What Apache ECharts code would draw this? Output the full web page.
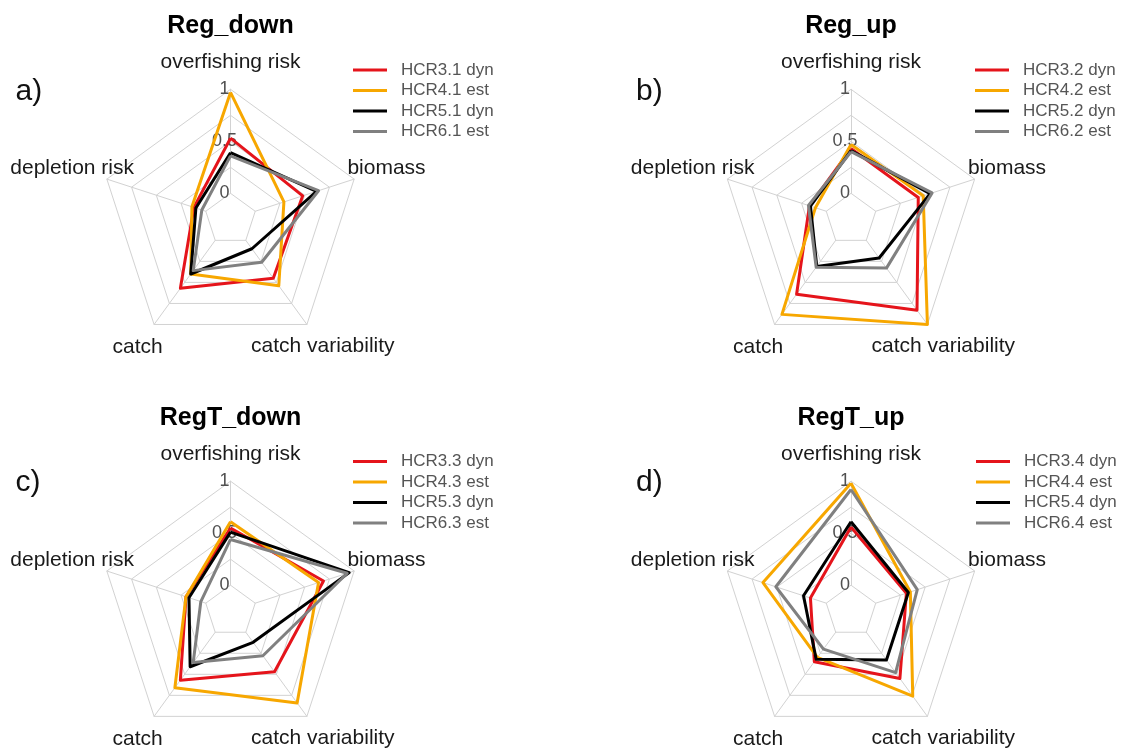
<!DOCTYPE html>
<html>
<head>
<meta charset="utf-8">
<script src="https://cdn.jsdelivr.net/npm/echarts@6/dist/echarts.min.js"></script>
<style>
  html, body { margin: 0; padding: 0; background: #fff; }
  #chart { width: 1124px; height: 751px; }
</style>
</head>
<body>
<div id="chart"></div>
<script>
// Radar axes, listed counter-clockwise from the top
const axisNames = ['overfishing risk', 'depletion risk', 'catch', 'catch variability', 'biomass'];
const tickLabels = ['0', '0.5', '1'];

const panelTitles = ['Reg_down', 'Reg_up', 'RegT_down', 'RegT_up'];
const panelTags = ['a)', 'b)', 'c)', 'd)'];

// Harvest control rule names per panel
const namesRegDown  = ['HCR3.1 dyn', 'HCR4.1 est', 'HCR5.1 dyn', 'HCR6.1 est'];
const namesRegUp    = ['HCR3.2 dyn', 'HCR4.2 est', 'HCR5.2 dyn', 'HCR6.2 est'];
const namesRegTDown = ['HCR3.3 dyn', 'HCR4.3 est', 'HCR5.3 dyn', 'HCR6.3 est'];
const namesRegTUp   = ['HCR3.4 dyn', 'HCR4.4 est', 'HCR5.4 dyn', 'HCR6.4 est'];

// Scores in axis order: overfishing, depletion, catch, catch variability, biomass
const hcr31 = [0.53, 0.12, 0.57, 0.45, 0.48];
const hcr41 = [0.97, 0.14, 0.40, 0.54, 0.29];
const hcr51 = [0.39, 0.10, 0.40, 0.10, 0.62];
const hcr61 = [0.36, 0.04, 0.36, 0.26, 0.64];

const hcr32 = [0.43, 0.17, 0.64, 0.83, 0.43];
const hcr42 = [0.47, 0.11, 0.88, 1.00, 0.48];
const hcr52 = [0.41, 0.16, 0.31, 0.21, 0.55];
const hcr62 = [0.40, 0.18, 0.32, 0.33, 0.57];

const hcr33 = [0.55, 0.20, 0.57, 0.47, 0.69];
const hcr43 = [0.61, 0.20, 0.66, 0.84, 0.64];
const hcr53 = [0.51, 0.17, 0.41, 0.12, 0.95];
const hcr63 = [0.44, 0.05, 0.36, 0.28, 0.93];

const hcr34 = [0.56, 0.16, 0.35, 0.55, 0.31];
const hcr44 = [0.98, 0.64, 0.30, 0.76, 0.35];
const hcr54 = [0.61, 0.23, 0.32, 0.33, 0.33];
const hcr64 = [0.92, 0.51, 0.20, 0.48, 0.42];

// ---- layout & styling ----
const FONT = 'Liberation Sans, Arial, sans-serif';
const lineColors = ['#e5141b', '#f7a700', '#000000', '#808080'];
const centers = [[230.5, 219.3], [851, 219.3], [230.5, 611.2], [851, 611.2]];
const legendPos = [[353, 61.5], [975, 61.5], [353, 453], [976, 453]];
const nameGaps = [27, 36.5, 28, 27, 34];

const panelNames = [namesRegDown, namesRegUp, namesRegTDown, namesRegTUp];
const panelValues = [
  [hcr31, hcr41, hcr51, hcr61],
  [hcr32, hcr42, hcr52, hcr62],
  [hcr33, hcr43, hcr53, hcr63],
  [hcr34, hcr44, hcr54, hcr64]
];

const radars = centers.map(c => ({
  center: c,
  radius: [26, 130],
  startAngle: 90,
  shape: 'polygon',
  splitNumber: 4,
  indicator: axisNames.map((n, i) => {
    const ind = { name: n, min: 0, max: 1, nameGap: nameGaps[i] };
    if (i === 0) ind.axisLabel = { show: true };
    return ind;
  }),
  axisName: {
    color: '#1a1a1a',
    fontSize: 21,
    fontFamily: FONT,
    align: 'center',
    verticalAlign: 'middle'
  },
  axisLine: { show: true, lineStyle: { color: '#d2d2d2', width: 1 } },
  splitLine: { show: true, lineStyle: { color: '#d2d2d2', width: 1 } },
  splitArea: { show: false },
  axisTick: { show: false },
  axisLabel: {
    show: false,
    color: '#505050',
    fontSize: 18,
    fontFamily: FONT,
    margin: 6,
    align: 'center',
    formatter: v => {
      const s = String(+v.toFixed(2));
      return tickLabels.indexOf(s) >= 0 ? s : '';
    }
  }
}));

const series = [];
panelValues.forEach((vals, p) => {
  vals.forEach((arr, k) => {
    series.push({
      type: 'radar',
      name: panelNames[p][k],
      radarIndex: p,
      symbol: 'none',
      silent: true,
      z: 2 + k,
      lineStyle: { color: lineColors[k], width: 3 },
      itemStyle: { color: lineColors[k] },
      data: [{ value: arr, name: panelNames[p][k] }]
    });
  });
});

const titles = [];
panelTitles.forEach((t, p) => {
  titles.push({
    text: t,
    left: centers[p][0],
    top: centers[p][1] - 205.5,
    textAlign: 'center',
    padding: 0,
    textStyle: { fontSize: 25, fontWeight: 'bold', color: '#000', fontFamily: FONT }
  });
  titles.push({
    text: panelTags[p],
    left: centers[p][0] - 215,
    top: centers[p][1] - 143,
    padding: 0,
    textStyle: { fontSize: 30, fontWeight: 'normal', color: '#111', fontFamily: FONT }
  });
});

const legends = panelNames.map((names, p) => ({
  data: names,
  orient: 'vertical',
  left: legendPos[p][0],
  top: legendPos[p][1],
  padding: 0,
  icon: 'rect',
  itemWidth: 34,
  itemHeight: 3,
  itemGap: 3.5,
  selectedMode: false,
  textStyle: { fontSize: 17, color: '#555555', fontFamily: FONT, padding: [0, 0, 0, 9] }
}));

const chart = echarts.init(document.getElementById('chart'), null, { renderer: 'canvas' });
chart.setOption({
  backgroundColor: '#ffffff',
  animation: false,
  color: lineColors,
  title: titles,
  legend: legends,
  radar: radars,
  series: series
});
</script>
</body>
</html>
